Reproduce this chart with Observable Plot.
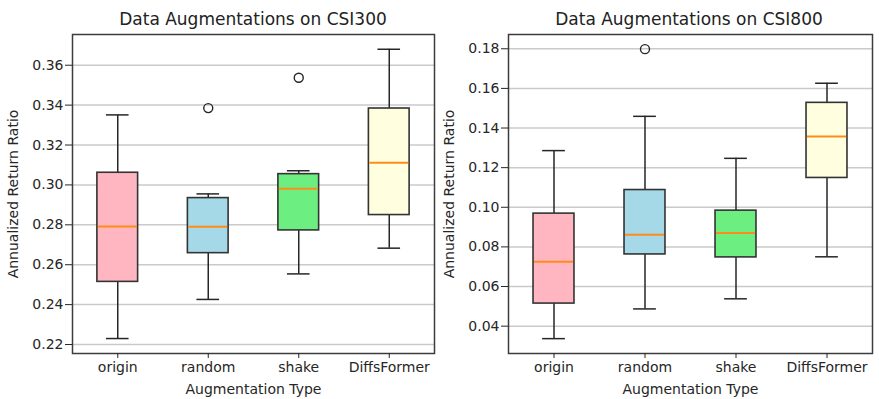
<!DOCTYPE html>
<html>
<head>
<meta charset="utf-8">
<script src="https://cdn.jsdelivr.net/npm/d3@7"></script>
<script src="https://cdn.jsdelivr.net/npm/@observablehq/plot@0.6"></script>
<style>
  html, body { margin: 0; padding: 0; background: #fff; }
  #wrap { position: relative; width: 879px; height: 399px; overflow: hidden; font-family: "DejaVu Sans", sans-serif; }
  .panel { position: absolute; top: 0; }
  .title { position: absolute; top: 11px; font-size: 17px; line-height: 17px; color: #222; white-space: nowrap; transform: translateX(-50%); }
</style>
</head>
<body>
<div id="wrap"></div>
<script>
// ---- data ----
const categories = ["origin", "random", "shake", "DiffsFormer"];

const csi300Min    = [0.2230, 0.2426, 0.2554, 0.2683];
const csi300Q1     = [0.2514, 0.2658, 0.2772, 0.2849];
const csi300Median = [0.2791, 0.2790, 0.2981, 0.3111];
const csi300Q3     = [0.3061, 0.2934, 0.3054, 0.3383];
const csi300Max    = [0.3351, 0.2955, 0.3071, 0.3680];
const csi300OutlierCats   = ["random", "shake"];
const csi300OutlierValues = [0.3385, 0.3537];
const csi300Ticks = [0.22, 0.24, 0.26, 0.28, 0.30, 0.32, 0.34, 0.36];

const csi800Min    = [0.0337, 0.0487, 0.0538, 0.0750];
const csi800Q1     = [0.0514, 0.0762, 0.0747, 0.1148];
const csi800Median = [0.0725, 0.0861, 0.0870, 0.1357];
const csi800Q3     = [0.0968, 0.1087, 0.0983, 0.1527];
const csi800Max    = [0.1286, 0.1459, 0.1247, 0.1626];
const csi800OutlierCats   = ["random"];
const csi800OutlierValues = [0.1798];
const csi800Ticks = [0.04, 0.06, 0.08, 0.10, 0.12, 0.14, 0.16, 0.18];

const palette = ["#ffb6c1", "#a6d9e7", "#6cef80", "#ffffe0"];

// ---- build ----
function rowsOf(mn, q1, md, q3, mx) {
  return categories.map((c, i) => ({cat: c, pos: i + 1, min: mn[i], q1: q1[i], median: md[i], q3: q3[i], max: mx[i]}));
}
function outliersOf(cats, vals) {
  return cats.map((c, i) => ({cat: c, pos: categories.indexOf(c) + 1, value: vals[i]}));
}

const HALF_BOX = 0.225, HALF_CAP = 0.125;

function panel({rows, outliers, domain, ticks, width, marginLeft, marginRight}) {
  const ink = "#262626";
  return Plot.plot({
    width, height: 399,
    marginTop: 34, marginBottom: 46, marginLeft, marginRight,
    style: {fontFamily: "DejaVu Sans, sans-serif", fontSize: "14px", color: "#262626", background: "transparent"},
    x: {type: "linear", domain: [0.5, 4.5]},
    y: {type: "linear", domain},
    color: {domain: categories, range: palette},
    marks: [
      Plot.gridY(ticks, {stroke: "#b8b8b8", strokeOpacity: 0.75, strokeWidth: 1.5}),
      Plot.ruleX(rows, {x: "pos", y1: "q3", y2: "max", stroke: ink, strokeWidth: 1.5}),
      Plot.ruleX(rows, {x: "pos", y1: "min", y2: "q1", stroke: ink, strokeWidth: 1.5}),
      Plot.ruleY(rows, {y: "max", x1: d => d.pos - HALF_CAP, x2: d => d.pos + HALF_CAP, stroke: ink, strokeWidth: 1.5}),
      Plot.ruleY(rows, {y: "min", x1: d => d.pos - HALF_CAP, x2: d => d.pos + HALF_CAP, stroke: ink, strokeWidth: 1.5}),
      Plot.rect(rows, {x1: d => d.pos - HALF_BOX, x2: d => d.pos + HALF_BOX, y1: "q1", y2: "q3", fill: "cat", stroke: "#333", strokeWidth: 1.6}),
      Plot.ruleY(rows, {y: "median", x1: d => d.pos - HALF_BOX + 0.01, x2: d => d.pos + HALF_BOX - 0.01, stroke: "#ff8c1a", strokeWidth: 2}),
      Plot.dot(outliers, {x: "pos", y: "value", r: 4.5, stroke: ink, strokeWidth: 1.4, fill: "none"}),
      Plot.frame({stroke: "#3c3c3c", strokeWidth: 1.5}),
      Plot.axisY(ticks, {tickFormat: d3.format(".2f"), tickSize: 7, tickPadding: 2, stroke: ink,
        label: "Annualized Return Ratio", labelAnchor: "center", labelArrow: "none", labelOffset: 64}),
      Plot.axisX([1, 2, 3, 4], {tickFormat: i => categories[i - 1], tickSize: 5, tickPadding: 4, stroke: ink,
        label: "Augmentation Type", labelAnchor: "center", labelArrow: "none", labelOffset: 40})
    ]
  });
}

const wrap = document.getElementById("wrap");

const p1 = document.createElement("div");
p1.className = "panel"; p1.style.left = "0px";
p1.appendChild(panel({
  rows: rowsOf(csi300Min, csi300Q1, csi300Median, csi300Q3, csi300Max),
  outliers: outliersOf(csi300OutlierCats, csi300OutlierValues),
  domain: [0.2155, 0.3754], ticks: csi300Ticks,
  width: 440, marginLeft: 72, marginRight: 6
}));
wrap.appendChild(p1);

const p2 = document.createElement("div");
p2.className = "panel"; p2.style.left = "440px";
p2.appendChild(panel({
  rows: rowsOf(csi800Min, csi800Q1, csi800Median, csi800Q3, csi800Max),
  outliers: outliersOf(csi800OutlierCats, csi800OutlierValues),
  domain: [0.0262, 0.1872], ticks: csi800Ticks,
  width: 439, marginLeft: 68, marginRight: 7
}));
wrap.appendChild(p2);

const t1 = document.createElement("div");
t1.className = "title"; t1.style.left = "253px"; t1.textContent = "Data Augmentations on CSI300";
wrap.appendChild(t1);
const t2 = document.createElement("div");
t2.className = "title"; t2.style.left = "689px"; t2.textContent = "Data Augmentations on CSI800";
wrap.appendChild(t2);
</script>
</body>
</html>
